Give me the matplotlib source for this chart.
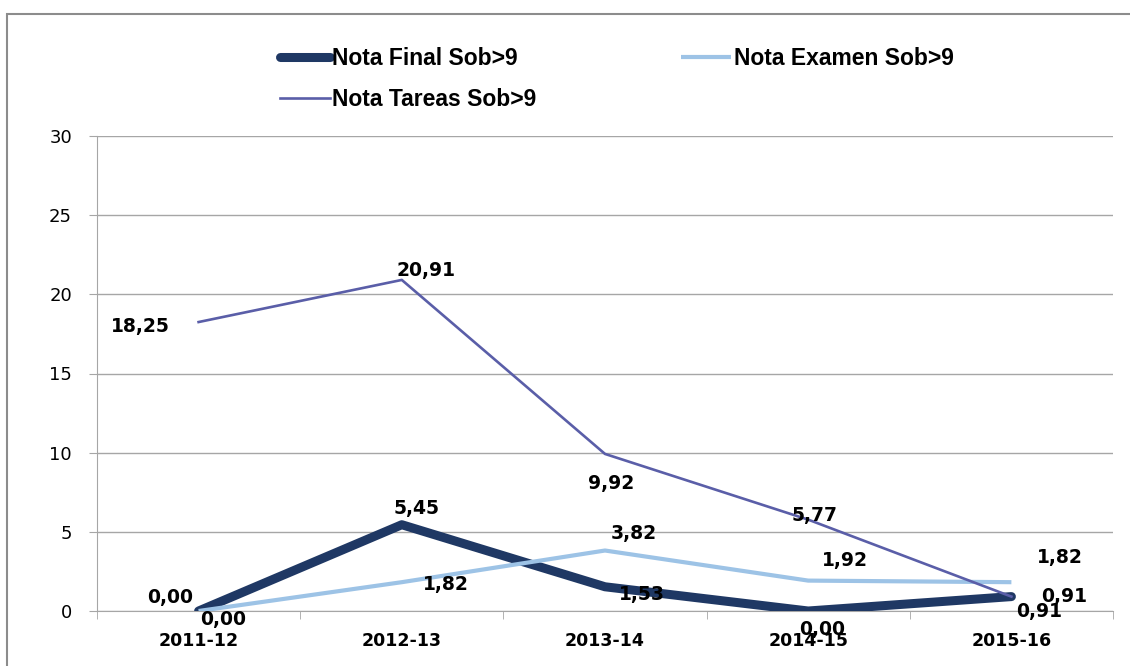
import numpy as np
import matplotlib
matplotlib.use("Agg")
import matplotlib.pyplot as plt
from matplotlib.patches import Rectangle

years = ["2011-12", "2012-13", "2013-14", "2014-15", "2015-16"]
nota_final = [0.00, 5.45, 1.53, 0.00, 0.91]
nota_examen = [0.00, 1.82, 3.82, 1.92, 1.82]
nota_tareas = [18.25, 20.91, 9.92, 5.77, 0.91]

# label offsets in pixels (dx, dy)
off_final = [(-28, 13), (15, 16), (37, -8), (14, -19), (53, 0)]
off_examen = [(25, -8), (44, -2), (29, 17), (37, 20), (48, 25)]
off_tareas = [(-58, -4), (24, 9), (6, -30), (6, 4), (28, -15)]

c_final = "#1f3864"
c_examen = "#9dc3e6"
c_tareas = "#5a5ea8"
grid_c = "#a6a6a6"

fig = plt.figure(figsize=(11.3, 6.66), dpi=100)
ax = fig.add_axes([97 / 1130, 1 - 611 / 666, (1113 - 97) / 1130, (611 - 136) / 666])

x = np.arange(len(years))
l_final, = ax.plot(x, nota_final, color=c_final, lw=6.5, solid_capstyle="round", zorder=3)
l_examen, = ax.plot(x, nota_examen, color=c_examen, lw=3, solid_capstyle="butt", zorder=4)
l_tareas, = ax.plot(x, nota_tareas, color=c_tareas, lw=1.9, zorder=5)


def fmt(v):
    return f"{v:.2f}".replace(".", ",")


for vals, offs in ((nota_final, off_final), (nota_examen, off_examen), (nota_tareas, off_tareas)):
    for xi, v, (dx, dy) in zip(x, vals, offs):
        ax.annotate(fmt(v), (xi, v), xytext=(dx, dy), textcoords="offset pixels",
                    ha="center", va="center", fontsize=13.5, fontweight="bold",
                    color="black", zorder=6, annotation_clip=False)

ax.set_xlim(-0.5, len(years) - 0.5)
ax.set_ylim(0, 30)
ax.set_yticks(range(0, 31, 5))
ax.tick_params(axis="y", length=6, color=grid_c, labelsize=13, pad=12)
ax.set_xticks(x)
ax.set_xticklabels(years, fontsize=12.5, fontweight="bold")
ax.set_xticks(np.arange(-0.5, len(years), 1), minor=True)
ax.tick_params(axis="x", which="major", length=0, pad=15)
ax.tick_params(axis="x", which="minor", length=6, color=grid_c)
ax.yaxis.grid(True, color=grid_c, lw=1)
ax.set_axisbelow(True)
for s in ("top", "right"):
    ax.spines[s].set_visible(False)
for s in ("left", "bottom"):
    ax.spines[s].set_color(grid_c)

leg = fig.legend([l_final, l_tareas, l_examen],
                 ["Nota Final Sob>9", "Nota Tareas Sob>9", "Nota Examen Sob>9"],
                 ncol=2, loc="upper left", bbox_to_anchor=(259 / 1130, 1 - 26 / 666),
                 frameon=False, handlelength=2.2, handletextpad=0.1,
                 columnspacing=6.3, labelspacing=0.8,
                 prop={"family": "Liberation Sans", "weight": "bold", "size": 16.5})

fig.patches.append(Rectangle((7 / 1130, -0.05), 1.1, 1 - 14 / 666 + 0.05,
                             transform=fig.transFigure, fill=False,
                             edgecolor="#8c8c8c", lw=1.5))

fig.savefig("out.png", dpi=100)
